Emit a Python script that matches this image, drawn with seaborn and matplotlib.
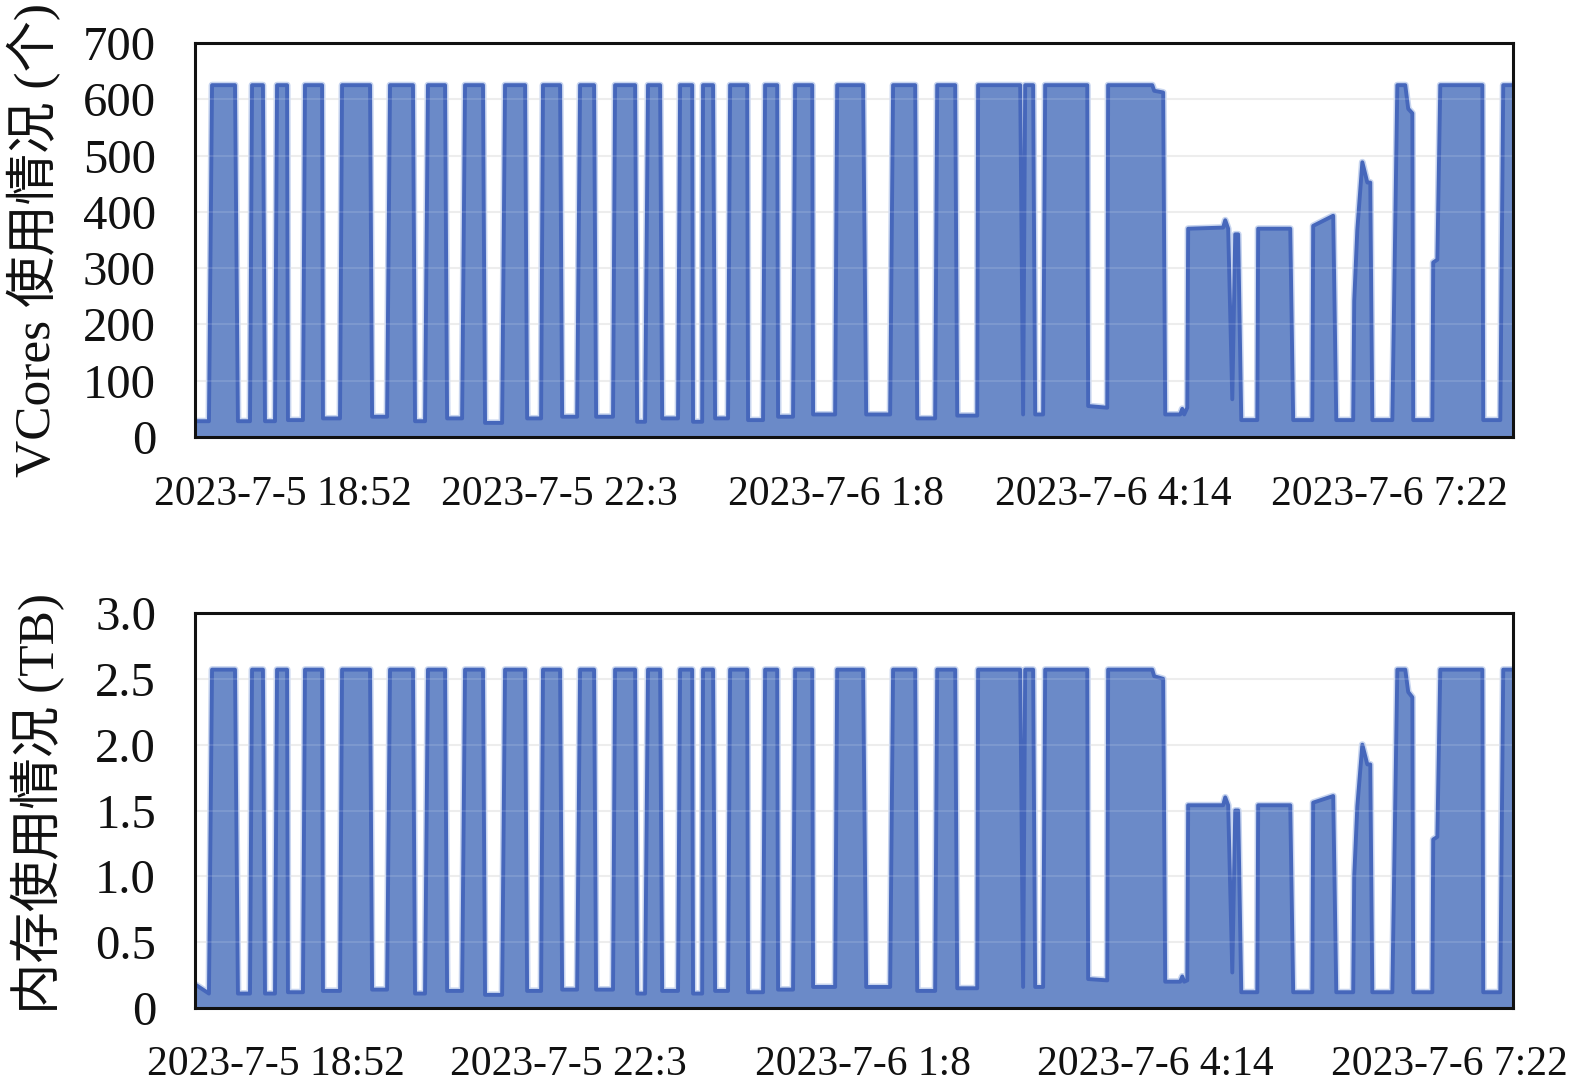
import numpy as np
import pandas as pd
import seaborn as sns
import matplotlib
matplotlib.use('Agg')
import matplotlib.pyplot as plt

# 时间轴：距起点的分钟数（按图上读出的转折点）
times = [0, 9.5, 11.6, 27.2, 29.2, 37.4, 38.8, 46.2, 47.6, 54.4,
         55.8, 62.6, 63.2, 73.4, 74.8, 86.4, 87.0, 98.6, 100.0, 119.0,
         120.4, 130.6, 132.6, 148.2, 149.6, 156.4, 158.4, 170.0, 171.4, 181.6,
         183.6, 195.8, 197.2, 208.8, 210.8, 224.4, 225.8, 235.3, 236.6, 248.2,
         249.6, 259.8, 261.8, 271.3, 272.7, 284.2, 285.6, 299.2, 300.6, 306.0,
         308.0, 316.2, 317.6, 328.4, 329.8, 338.0, 338.6, 344.8, 345.4, 352.2,
         353.6, 362.4, 363.8, 375.4, 376.0, 386.2, 387.6, 395.8, 396.4, 406.6,
         408.0, 419.6, 420.2, 435.2, 436.6, 454.2, 456.3, 472.6, 474.6, 489.6,
         491.0, 503.2, 504.6, 516.8, 518.2, 531.8, 532.4, 561.0, 563.0, 564.4,
         569.8, 571.2, 576.6, 578.0, 606.6, 607.2, 620.2, 620.8, 650.8, 652.1,
         658.2, 659.6, 669.8, 671.2, 672.5, 674.6, 675.2, 699.0, 700.4, 702.4,
         705.2, 707.2, 709.2, 711.3, 722.2, 722.8, 744.6, 746.6, 759.6, 760.2,
         773.8, 775.9, 787.4, 788.1, 790.2, 793.6, 797.0, 799.0, 800.4, 814.0,
         817.4, 822.8, 824.8, 827.6, 828.2, 841.2, 841.8, 844.6, 846.6, 875.2,
         875.8, 887.4, 889.4, 896.2]

# VCores 使用量（个）
vcores = [28, 28, 625, 625, 28, 28, 625, 625, 28, 28,
          625, 625, 30, 30, 625, 625, 33, 33, 625, 625,
          36, 36, 625, 625, 28, 28, 625, 625, 33, 33,
          625, 625, 25, 25, 625, 625, 33, 33, 625, 625,
          36, 36, 625, 625, 36, 36, 625, 625, 27, 27,
          625, 625, 33, 33, 625, 625, 27, 27, 625, 625,
          33, 33, 625, 625, 30, 30, 625, 625, 36, 36,
          625, 625, 40, 40, 625, 625, 40, 40, 625, 625,
          33, 33, 625, 625, 38, 38, 625, 625, 40, 625,
          625, 40, 40, 625, 625, 55, 52, 625, 625, 615,
          612, 40, 40, 50, 40, 52, 370, 372, 385, 370,
          67, 360, 360, 30, 30, 370, 370, 30, 30, 375,
          393, 30, 30, 242, 368, 488, 452, 452, 30, 30,
          625, 625, 583, 575, 30, 30, 310, 315, 625, 625,
          30, 30, 625, 625]

# 内存使用量（TB）
memory = [0.18, 0.11, 2.57, 2.57, 0.11, 0.11, 2.57, 2.57, 0.11, 0.11,
          2.57, 2.57, 0.12, 0.12, 2.57, 2.57, 0.13, 0.13, 2.57, 2.57,
          0.14, 0.14, 2.57, 2.57, 0.11, 0.11, 2.57, 2.57, 0.13, 0.13,
          2.57, 2.57, 0.10, 0.10, 2.57, 2.57, 0.13, 0.13, 2.57, 2.57,
          0.14, 0.14, 2.57, 2.57, 0.14, 0.14, 2.57, 2.57, 0.11, 0.11,
          2.57, 2.57, 0.13, 0.13, 2.57, 2.57, 0.11, 0.11, 2.57, 2.57,
          0.13, 0.13, 2.57, 2.57, 0.12, 0.12, 2.57, 2.57, 0.14, 0.14,
          2.57, 2.57, 0.16, 0.16, 2.57, 2.57, 0.16, 0.16, 2.57, 2.57,
          0.13, 0.13, 2.57, 2.57, 0.15, 0.15, 2.57, 2.57, 0.16, 2.57,
          2.57, 0.16, 0.16, 2.57, 2.57, 0.22, 0.21, 2.57, 2.57, 2.52,
          2.50, 0.20, 0.20, 0.24, 0.20, 0.21, 1.54, 1.54, 1.60, 1.54,
          0.27, 1.50, 1.50, 0.12, 0.12, 1.54, 1.54, 0.12, 0.12, 1.56,
          1.61, 0.12, 0.12, 1.00, 1.53, 2.00, 1.85, 1.85, 0.12, 0.12,
          2.57, 2.57, 2.40, 2.36, 0.12, 0.12, 1.28, 1.30, 2.57, 2.57,
          0.12, 0.12, 2.57, 2.57]

top_ticks = [60, 248, 436, 624, 812]
bottom_ticks = [55, 254, 454, 653, 853]
tick_labels = ['2023-7-5 18:52', '2023-7-5 22:3', '2023-7-6 1:8',
               '2023-7-6 4:14', '2023-7-6 7:22']

df = pd.DataFrame({'t': times, 'vcores': vcores, 'mem': memory})

sns.set_theme(style='white')
plt.rcParams['font.family'] = ['Liberation Serif', 'Noto Sans CJK SC']
plt.rcParams['axes.unicode_minus'] = False

fill_color = '#6b8ac8'
line_color = '#4667bb'
halo_color = '#c8d5ef'

fig = plt.figure(figsize=(15.75, 10.9), dpi=100)
ax1 = fig.add_axes([0.1238, 0.5991, 0.8368, 0.3615])
ax2 = fig.add_axes([0.1238, 0.0752, 0.8368, 0.3624])


def draw(ax, col, ymax, yticks, ylabels, xticks, xpad):
	for y in yticks[1:-1]:
		ax.axhline(y, color='#ebebeb', lw=1.5, zorder=0)
		ax.axhline(y, color='white', lw=1.5, alpha=0.12, zorder=4)
	# 浅色外晕 + 填充 + 深色边线
	ax.plot(df['t'], df[col], color=halo_color, lw=5, zorder=1,
	        solid_joinstyle='round', solid_capstyle='butt')
	ax.fill_between(df['t'], df[col], color=fill_color, lw=0, zorder=2)
	sns.lineplot(data=df, x='t', y=col, ax=ax, color=line_color, lw=2.8,
	             sort=False, estimator=None, zorder=3, solid_joinstyle='round')
	ax.set_xlim(0, 896)
	ax.set_ylim(0, ymax)
	ax.set_yticks(yticks)
	ax.set_yticklabels(ylabels, fontsize=35)
	ax.set_xticks(xticks)
	ax.set_xticklabels(tick_labels, fontsize=30)
	ax.set_xlabel('')
	ax.set_ylabel('')
	ax.tick_params(axis='y', direction='in', length=10, width=2, pad=28, colors='#111111')
	ax.tick_params(axis='x', direction='in', length=11, width=2, pad=xpad, colors='#111111')
	for s in ax.spines.values():
		s.set_linewidth(2.2)
		s.set_color('#111111')
		s.set_visible(True)
		s.set_zorder(5)


draw(ax1, 'vcores', 700, [0, 100, 200, 300, 400, 500, 600, 700],
     ['0', '100', '200', '300', '400', '500', '600', '700'], top_ticks, 28)
draw(ax2, 'mem', 3.0, [0, 0.5, 1.0, 1.5, 2.0, 2.5, 3.0],
     ['0', '0.5', '1.0', '1.5', '2.0', '2.5', '3.0'], bottom_ticks, 27)

fig.text(34 / 1575, 1 - 240 / 1090, 'VCores 使用情况 (个)', rotation=90,
         ha='center', va='center', fontsize=37, color='#111111')
fig.text(38 / 1575, 1 - 803 / 1090, '内存使用情况 (TB)', rotation=90,
         ha='center', va='center', fontsize=37, color='#111111')

fig.savefig('out.png', dpi=100, facecolor='white')
